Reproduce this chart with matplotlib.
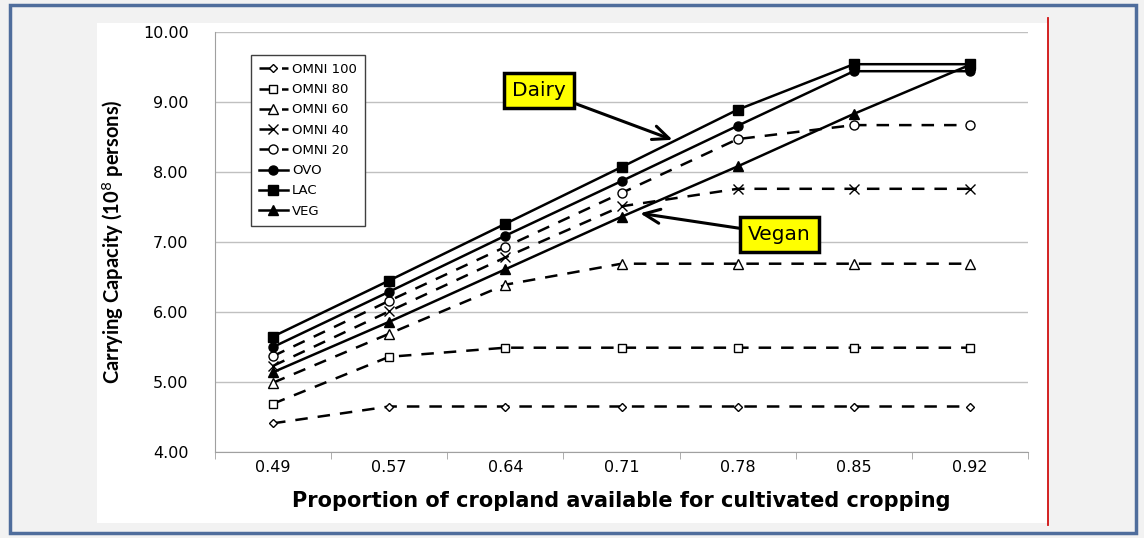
import matplotlib
matplotlib.use("Agg")
import matplotlib.pyplot as plt
from matplotlib.patches import Rectangle
from matplotlib.lines import Line2D

# cropland proportions (categories on the x axis)
proportions = ["0.49", "0.57", "0.64", "0.71", "0.78", "0.85", "0.92"]

# carrying capacity, 10^8 persons
omni100 = [4.41, 4.65, 4.65, 4.65, 4.65, 4.65, 4.65]
omni80 = [4.69, 5.36, 5.49, 5.49, 5.49, 5.49, 5.49]
omni60 = [4.99, 5.69, 6.39, 6.69, 6.69, 6.69, 6.69]
omni40 = [5.23, 6.01, 6.78, 7.51, 7.76, 7.76, 7.76]
omni20 = [5.37, 6.16, 6.93, 7.70, 8.47, 8.67, 8.67]
ovo = [5.50, 6.29, 7.09, 7.87, 8.66, 9.44, 9.44]
lac = [5.65, 6.45, 7.26, 8.07, 8.89, 9.54, 9.54]
veg = [5.14, 5.86, 6.61, 7.36, 8.08, 8.83, 9.53]

series = [
    ("OMNI 100", omni100, "D", "white", (0, (5, 4)), 4.5),
    ("OMNI 80", omni80, "s", "white", (0, (5, 4)), 6),
    ("OMNI 60", omni60, "^", "white", (0, (5, 4)), 6.5),
    ("OMNI 40", omni40, "x", "black", (0, (5, 4)), 7),
    ("OMNI 20", omni20, "o", "white", (0, (5, 4)), 6.5),
    ("OVO", ovo, "o", "black", "-", 6.5),
    ("LAC", lac, "s", "black", "-", 6.5),
    ("VEG", veg, "^", "black", "-", 6.5),
]

fig = plt.figure(figsize=(11.44, 5.38), dpi=100)
fig.patch.set_facecolor("#f2f2f2")

# outer frame and white chart area
fig.patches.append(Rectangle((10 / 1144, 5 / 538), 1126 / 1144, 528 / 538, transform=fig.transFigure,
                             facecolor="#f2f2f2", edgecolor="#4f6d9c", linewidth=2.5, zorder=0))
fig.patches.append(Rectangle((97 / 1144, 15 / 538), 951 / 1144, 500 / 538, transform=fig.transFigure,
                             facecolor="white", edgecolor="none", zorder=1))
fig.lines.append(Line2D([1048 / 1144, 1048 / 1144], [13 / 538, 520 / 538], transform=fig.transFigure,
                        color="#d01010", linewidth=1.3, zorder=2))

ax = fig.add_axes([215 / 1144, 1 - 452 / 538, 813 / 1144, 420 / 538])
ax.set_facecolor("white")
ax.set_zorder(3)

x = list(range(len(proportions)))
for name, vals, mk, fc, ls, ms in series:
    ax.plot(x, vals, color="black", linestyle=ls, linewidth=1.8, marker=mk,
            markersize=ms, markerfacecolor=fc, markeredgecolor="black",
            markeredgewidth=1.0, label=name)

ax.set_xlim(-0.5, len(proportions) - 0.5)
ax.set_ylim(4, 10)
ax.set_yticks([4, 5, 6, 7, 8, 9, 10])
ax.set_yticklabels(["%.2f" % v for v in [4, 5, 6, 7, 8, 9, 10]], fontsize=11.5)
ax.set_xticks(x)
ax.set_xticklabels(proportions, fontsize=11.5)
ax.set_xticks([i - 0.5 for i in range(len(proportions) + 1)], minor=True)
ax.tick_params(axis="x", which="major", length=0, pad=6)
ax.tick_params(axis="x", which="minor", length=5, color="#a0a0a0")
ax.tick_params(axis="y", length=0, pad=19)
ax.grid(axis="y", color="#c0c0c0", linewidth=1)
ax.set_axisbelow(True)
for side in ["top", "right"]:
    ax.spines[side].set_visible(False)
ax.spines["left"].set_color("#a0a0a0")
ax.spines["bottom"].set_color("#a0a0a0")

ax.set_ylabel("Carrying Capacity (10$^{8}$ persons)", fontsize=14.5, fontweight="bold",
              family="Lato", labelpad=12)
ax.set_xlabel("Proportion of cropland available for cultivated cropping", fontsize=15,
              fontweight="bold", labelpad=11)

leg = ax.legend(loc="upper left", bbox_to_anchor=((251 - 215) / 813, (452 - 55) / 420),
                borderaxespad=0, fontsize=9.5, handlelength=2.2, handletextpad=0.3,
                labelspacing=0.55, borderpad=0.6, fancybox=False, framealpha=1, edgecolor="#404040")
leg.get_frame().set_linewidth(1.0)

box = dict(boxstyle="square,pad=0.4", facecolor="#ffff00", edgecolor="black", linewidth=2.5)
arrow = dict(arrowstyle="->,head_width=0.35,head_length=0.8", color="black",
             linewidth=2.2, shrinkA=0, shrinkB=0)
ax.annotate("Dairy", xy=(3.44, 8.46), xytext=(2.29, 9.17), fontsize=14.5, ha="center", va="center",
            bbox=box, arrowprops=arrow)
ax.annotate("Vegan", xy=(3.16, 7.41), xytext=(4.36, 7.11), fontsize=14.5, ha="center", va="center",
            bbox=box, arrowprops=arrow)

fig.savefig("out.png", dpi=100, facecolor=fig.get_facecolor())
